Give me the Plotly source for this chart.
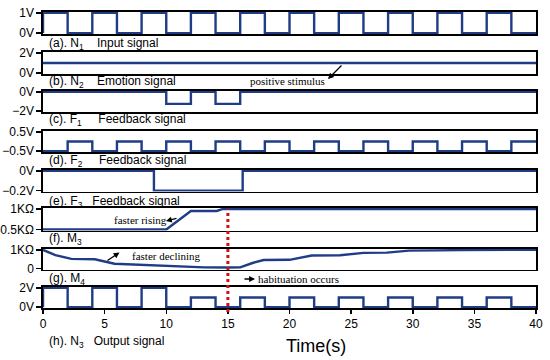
import plotly.graph_objects as go
from plotly.subplots import make_subplots

# ---------------- data ----------------
# (a) N1 input signal (V), step signal
n1_t = [0, 0, 2, 4, 6, 8, 10, 12, 14, 16, 18, 20, 22, 24, 26, 28, 30, 32, 34, 36, 38, 40]
n1_v = [0, 1, 0, 1, 0, 1, 0, 1, 0, 1, 0, 1, 0, 1, 0, 1, 0, 1, 0, 1, 0, 0]
# (b) N2 emotion signal (V)
n2_t = [0, 40]
n2_v = [1, 1]
# (c) F1 feedback signal (V), step signal
f1_t = [0, 10, 12, 14, 16, 40]
f1_v = [0, -1.25, 0, -1.25, 0, 0]
# (d) F2 feedback signal (V), step signal
f2_t = [0, 2, 4, 6, 8, 10, 12, 14, 16, 18, 20, 22, 24, 26, 28, 30, 32, 34, 36, 38, 40]
f2_v = [-0.5, 0, -0.5, 0, -0.5, 0, -0.5, 0, -0.5, 0, -0.5, 0, -0.5, 0, -0.5, 0, -0.5, 0, -0.5, 0, 0]
# (e) F3 feedback signal (V), step signal
f3_t = [0, 9, 16.2, 40]
f3_v = [0, -0.2, 0, 0]
# (f) M3 memristance (KOhm)
m3_t = [0, 10, 12, 14.1, 14.6, 40]
m3_v = [0.5, 0.5, 0.95, 0.95, 1.0, 1.0]
# (g) M4 memristance (KOhm)
m4_t = [0, 1, 2.3, 4.2, 5.8, 8.5, 11.2, 13.1, 15, 16, 17, 17.9, 20, 21.8, 24.1, 26, 27.9, 29.7, 32, 34, 40]
m4_v = [1.0, 0.72, 0.52, 0.5, 0.26, 0.19, 0.11, 0.07, 0.06, 0.07, 0.3, 0.46, 0.47, 0.70, 0.71, 0.84, 0.85, 0.96, 0.97, 0.99, 1.0]
# (h) N3 output signal (V), step signal
n3_t = [0, 0, 2, 4, 6, 8, 10, 12, 14, 16, 18, 20, 22, 24, 26, 28, 30, 32, 34, 36, 38, 40]
n3_v = [0, 2, 0, 2, 0, 2, 0, 1, 0, 1, 0, 1, 0, 1, 0, 1, 0, 1, 0, 1, 0, 0]

x_ticks = [0, 5, 10, 15, 20, 25, 30, 35, 40]
habituation_t = 15

panels = [
    dict(t=n1_t, v=n1_v, step=True, lo=0, hi=1, tv=[0, 1], tt=["0V", "1V"],
         label="(a). N<sub>1</sub>\u00a0\u00a0\u00a0\u00a0Input signal"),
    dict(t=n2_t, v=n2_v, step=False, lo=0, hi=2, tv=[0, 2], tt=["0V", "2V"],
         label="(b). N<sub>2</sub>\u00a0\u00a0\u00a0\u00a0Emotion signal"),
    dict(t=f1_t, v=f1_v, step=True, lo=-2, hi=0, tv=[-2, 0], tt=["\u22122V", "0V"],
         label="(c). F<sub>1</sub>\u00a0\u00a0\u00a0\u00a0\u00a0Feedback signal"),
    dict(t=f2_t, v=f2_v, step=True, lo=-0.5, hi=0.5, tv=[-0.5, 0.5], tt=["\u22120.5V", "0.5V"],
         label="(d). F<sub>2</sub>\u00a0\u00a0\u00a0\u00a0\u00a0Feedback signal"),
    dict(t=f3_t, v=f3_v, step=True, lo=-0.2, hi=0, tv=[-0.2, 0], tt=["\u22120.2V", "0V"],
         label="(e). F<sub>3</sub>\u00a0\u00a0\u00a0Feedback signal"),
    dict(t=m3_t, v=m3_v, step=False, lo=0.5, hi=1, tv=[0.5, 1], tt=["0.5K\u03a9", "1K\u03a9"],
         label="(f). M<sub>3</sub>"),
    dict(t=m4_t, v=m4_v, step=False, lo=0, hi=1, tv=[0, 1], tt=["0", "1K\u03a9"],
         label="(g). M<sub>4</sub>"),
    dict(t=n3_t, v=n3_v, step=True, lo=0, hi=2, tv=[0, 2], tt=["0V", "2V"],
         label="(h). N<sub>3</sub>\u00a0\u00a0\u00a0Output signal"),
]

# ---------------- layout geometry (pixels) ----------------
W, H = 550, 360
L, R, T, B = 43, 536, 12, 308
panel_px = [(12, 34), (52, 74), (91, 112), (131, 152), (170, 191.5), (208, 230.5), (249, 269.5), (287, 308)]
label_py = [44, 82, 120, 161, 202, 239, 279, 342]


def fx(px):
    return (px - L) / (R - L)


def fy(py):
    return (B - py) / (B - T)


BLUE = "#1f3d86"
FONT = "Liberation Sans, Arial, sans-serif"
SERIF = "Liberation Serif, Times New Roman, serif"

fig = make_subplots(rows=8, cols=1, shared_xaxes=True, vertical_spacing=0.01)

for i, p in enumerate(panels):
    fig.add_trace(go.Scatter(x=p["t"], y=p["v"], mode="lines",
                             line=dict(color=BLUE, width=2.4, shape="hv" if p["step"] else "linear"),
                             showlegend=False, hoverinfo="skip"), row=i + 1, col=1)
    span = p["hi"] - p["lo"]
    pad = span * 0.045
    top, bot = panel_px[i]
    yk = "yaxis" if i == 0 else f"yaxis{i + 1}"
    fig.layout[yk].update(domain=[fy(bot), fy(top)], range=[p["lo"] - pad, p["hi"] + pad],
                          tickvals=p["tv"], ticktext=p["tt"], ticks="outside", ticklen=5,
                          tickcolor="black", tickwidth=1.5, showline=True, linecolor="black",
                          linewidth=1.6, mirror=True, showgrid=False, zeroline=False,
                          automargin=False, ticklabeloverflow="allow",
                          tickfont=dict(family=FONT, size=12, color="black"), fixedrange=True)
    xk = "xaxis" if i == 0 else f"xaxis{i + 1}"
    fig.layout[xk].update(range=[0, 40], showline=True, linecolor="black", linewidth=1.6,
                          mirror=True, showgrid=False, zeroline=False, automargin=False,
                          showticklabels=(i == 7), ticks="outside" if i == 7 else "",
                          tickvals=x_ticks, ticklen=4, tickcolor="black", tickwidth=1.5,
                          ticklabeloverflow="allow", fixedrange=True,
                          tickfont=dict(family=FONT, size=12, color="black"))

# habituation marker
fig.add_shape(type="line", xref="x8", yref="paper", x0=habituation_t, x1=habituation_t,
              y0=fy(312), y1=fy(209), line=dict(color="#d01010", width=3, dash="dot"))

ann = []
for i, p in enumerate(panels):
    ann.append(dict(text=p["label"], xref="paper", yref="paper", x=fx(47), y=fy(label_py[i]),
                    xanchor="left", yanchor="middle", showarrow=False,
                    font=dict(family=FONT, size=12, color="black")))

ann.append(dict(text="Time(s)", xref="paper", yref="paper", x=fx(316), y=fy(346),
                xanchor="center", yanchor="middle", showarrow=False,
                font=dict(family=FONT, size=18, color="black")))

texts = [("positive stimulus", 248, 81), ("faster rising", 112, 220),
         ("faster declining", 130, 256), ("habituation occurs", 256, 279)]
for s, x0, y0 in texts:
    ann.append(dict(text=s, xref="paper", yref="paper", x=fx(x0), y=fy(y0), xanchor="left",
                    yanchor="middle", showarrow=False, font=dict(family=SERIF, size=11, color="black")))

arrows = [(328, 79, 15, -15), (166, 221, 12, -3), (119.5, 252.5, -13.5, 9), (255, 279, -12, 0)]
for hx, hy, ax, ay in arrows:
    ann.append(dict(text="", xref="paper", yref="paper", x=fx(hx), y=fy(hy), ax=ax, ay=ay,
                    showarrow=True, arrowhead=2, arrowsize=0.9, arrowwidth=1.3, arrowcolor="black"))

fig.update_layout(width=W, height=H,
                  margin=dict(l=L, r=W - R, t=T, b=H - B, autoexpand=False),
                  paper_bgcolor="white", plot_bgcolor="white", annotations=ann,
                  showlegend=False, hovermode=False)

# remove the page's default 8px body margin so the figure sits at the window origin
fig.write_html("out.html", config={"displayModeBar": False, "staticPlot": True},
               post_script="document.body.style.margin='0px';")
